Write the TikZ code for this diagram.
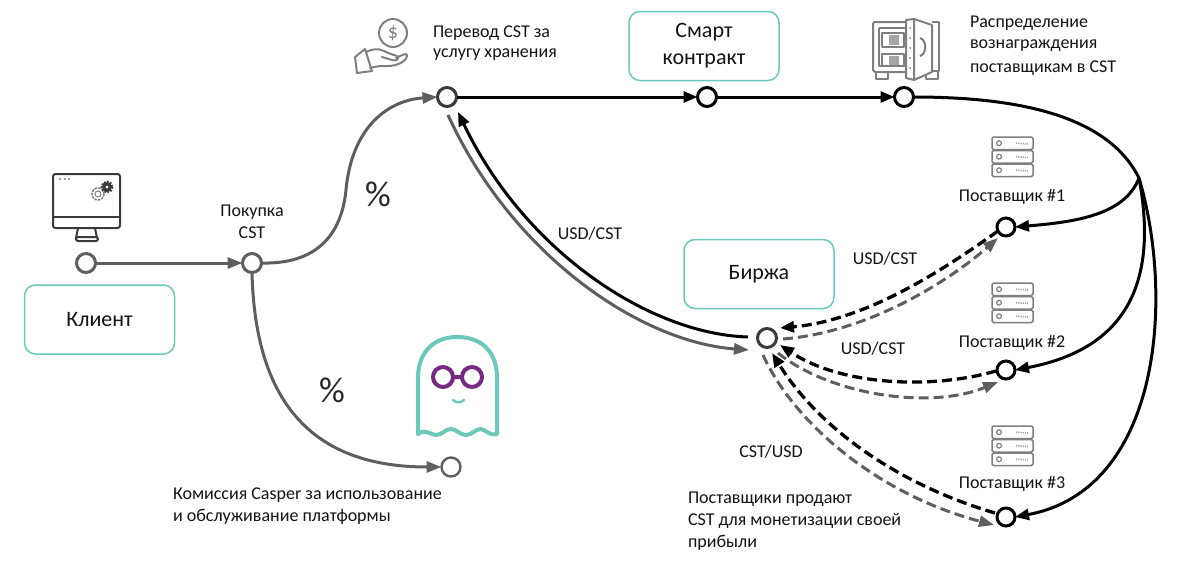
\documentclass[tikz,border=0pt]{standalone}
\usepackage{fontspec}
\setmainfont{Carlito}
\usetikzlibrary{arrows.meta}
\definecolor{tealbox}{HTML}{6CC9BA}
\definecolor{flowgray}{HTML}{5E5E5E}
\definecolor{icongray}{HTML}{7F7F7F}
\definecolor{inkdark}{HTML}{3A3A3A}
\definecolor{glasses}{HTML}{742A80}
\tikzset{
  every node/.style={inner sep=0pt,outer sep=0pt,text=black!92},
  label16/.style={font=\fontsize{18}{18}\selectfont},
  left16/.style={label16,anchor=west},
  bigpct/.style={font=\fontsize{36}{36}\selectfont,text=black!85},
  titlebox/.style={draw=tealbox,line width=1.5pt,rounded corners=11pt,minimum width=150pt,minimum height=69pt,align=center,font=\fontsize{22}{27}\selectfont},
  dotblack/.style={circle,draw=black,line width=3pt,fill=white,minimum size=19pt},
  dotgray/.style={circle,draw=flowgray,line width=3pt,fill=white,minimum size=19pt},
  flowblack/.style={draw=black,line width=3pt,-{Triangle[length=14pt,width=11pt]}},
  flowgrayline/.style={draw=flowgray,line width=3pt,-{Triangle[length=15pt,width=11pt]}},
  dashblack/.style={flowblack,line width=3.3pt,dash pattern=on 10pt off 5pt},
  dashgray/.style={flowgrayline,dash pattern=on 10pt off 5pt},
  noarrowblack/.style={draw=black,line width=3pt},
  servericon/.pic={
    \foreach \r in {0,1,2}{
      \draw[icongray,line width=1.5pt,rounded corners=1.5pt] (0,\r*13.5) rectangle (41,\r*13.5+12.5);
      \draw[icongray,line width=1.2pt] (7,\r*13.5+6.2) circle (2.4);
      \draw[icongray!70,line width=1.6pt,dash pattern=on 1.2pt off 1pt] (24,\r*13.5+6.2) -- (37,\r*13.5+7);
    }
  }
}
\begin{document}
\begin{tikzpicture}[x=1pt,y=-1pt]
\useasboundingbox[fill=white] (0,0) rectangle (1200,582);

% Titled boxes
\node[titlebox] (client) at (99.5,319.5) {Клиент};
\node[titlebox] (smart) at (704,46) {Смарт\\контракт};
\node[titlebox] (birzha) at (759,274) {Биржа};

% Flow points
\node[dotgray] (start) at (86,263) {};
\node[dotgray] (buy) at (252,263) {};
\node[dotblack,draw=inkdark] (top) at (447,97) {};
\node[dotblack] (sc) at (707,97) {};
\node[dotblack] (safe) at (904,97) {};
\node[dotblack,minimum size=18pt] (p1) at (1006,227) {};
\node[dotblack,minimum size=18pt] (p2) at (1006,370) {};
\node[dotblack,minimum size=18pt] (p3) at (1006,517) {};
\node[dotblack,draw=inkdark] (ex) at (767,338) {};
\node[circle,draw=flowgray,line width=2.4pt,fill=white,minimum size=19pt] (fee) at (451,467) {};
\coordinate (fork) at (1139,178);
\coordinate (bend) at (346,190);

% Purchase flows
\draw[flowgrayline] (start) -- (buy);
\draw[flowgrayline] (buy.east) .. controls (300,264) and (340,250) .. (bend)
  .. controls (352,125) and (390,100) .. (top.west);
\draw[flowgrayline] (buy.south) .. controls (255,400) and (310,467) .. (fee.west);

% Storage payment flows
\draw[flowblack] (top) -- (sc);
\draw[flowblack] (sc) -- (safe);
\draw[noarrowblack] (safe.east) .. controls (1030,97) and (1110,120) .. (fork);
\draw[flowblack] (fork) .. controls (1125,215) and (1075,222) .. (p1.east);
\draw[flowblack] (fork) .. controls (1160,290) and (1120,350) .. (p2.east);
\draw[flowblack] (fork) .. controls (1175,300) and (1160,490) .. (p3.east);

% Exchange flows between the storage payment point and the market
\draw[flowblack] ([shift={(-19,-1)}]ex.center) .. controls (650,334) and (525,252) .. ([shift={(11,15)}]top.center);
\draw[flowgrayline] ([shift={(1,18)}]top.center) .. controls (512,255) and (640,342) .. ([shift={(-18,12)}]ex.center);

% Providers trading with the market
\draw[dashblack] ([shift={(-8,4)}]p1.center) .. controls (950,265) and (870,320) .. ([shift={(13,-10)}]ex.center);
\draw[dashgray] ([shift={(16,1)}]ex.center) .. controls (870,332) and (950,280) .. ([shift={(-8,11)}]p1.center);
\draw[dashblack] ([shift={(-10,1)}]p2.center) .. controls (930,390) and (840,385) .. ([shift={(13,7)}]ex.center);
\draw[dashgray] ([shift={(11,15)}]ex.center) .. controls (830,395) and (930,410) .. ([shift={(-8,12)}]p2.center);
\draw[dashblack] ([shift={(-11,-4)}]p3.center) .. controls (900,485) and (820,430) .. ([shift={(5,15)}]ex.center);
\draw[dashgray] ([shift={(-4,17)}]ex.center) .. controls (795,425) and (880,495) .. ([shift={(-12,8)}]p3.center);

% Labels
\node[left16] (t1a) at (433,33) {Перевод CST за};
\node[left16] (t1b) at (433,55) {услугу хранения};
\node[left16] (t2a) at (970,23) {Распределение};
\node[left16] (t2b) at (970,46) {вознаграждения};
\node[left16] (t2c) at (970,68) {поставщикам в CST};
\node[label16] (t3a) at (252,212) {Покупка};
\node[label16] (t3b) at (252,233) {CST};
\node[label16] (p1t) at (1012,197) {Поставщик \#1};
\node[label16] (p2t) at (1012,343) {Поставщик \#2};
\node[label16] (p3t) at (1012,484) {Поставщик \#3};
\node[label16] (r1) at (590,234) {USD/CST};
\node[label16] (r2) at (885,259) {USD/CST};
\node[label16] (r3) at (873,349) {USD/CST};
\node[label16] (r4) at (771,452) {CST/USD};
\node[left16] (t4a) at (173,495) {Комиссия Casper за использование};
\node[left16] (t4b) at (173,517) {и обслуживание платформы};
\node[left16] (t5a) at (688,499) {Поставщики продают};
\node[left16] (t5b) at (688,521) {CST для монетизации своей};
\node[left16] (t5c) at (688,543) {прибыли};
\node[bigpct] (pc1) at (378,194) {\%};
\node[bigpct] (pc2) at (332,390) {\%};

% Server racks
\pic at (992,137) {servericon};
\pic at (992,283) {servericon};
\pic at (992,426) {servericon};

% Desktop computer
\begin{scope}[draw=inkdark,line width=2pt]
  \draw[rounded corners=2.5pt] (53,174) rectangle (120,228);
  \draw (53,217) -- (120,217);
  \draw (78,228) -- (76,238) (95,228) -- (97,238);
  \draw[rounded corners=2pt] (76,237) rectangle (98,241);
  \fill[icongray] (60,179) circle (1.2) (65,179) circle (1.2) (69,179) circle (1.2);
  \draw[icongray,line width=1.5pt,dash pattern=on 2.5pt off 1pt] (98,194) circle (6);
  \draw[icongray,line width=1pt] (98,194) circle (3);
  \fill[inkdark] (107,187) circle (5);
  \draw[inkdark,line width=1.6pt,dash pattern=on 1.8pt off 1.4pt] (107,187) circle (5.6);
  \fill[white] (107,187) circle (1.6);
\end{scope}

% Hand holding a coin
\begin{scope}[draw=icongray,line width=2pt,line join=round,line cap=round]
  \draw (393,33) circle (14);
  \node[font=\fontsize{20}{20}\selectfont,text=icongray] (coin) at (393,33) {\$};
  \draw (355,57) -- (365,49) -- (372,71) -- (357,73) -- cycle;
  \draw (366,52) .. controls (372,49) and (378,48) .. (384,51) .. controls (390,54) and (394,55) .. (397,56)
        .. controls (400,58) and (397,62) .. (392,60) -- (382,57);
  \draw (396,58) .. controls (402,55) and (408,52) .. (407,56) .. controls (406,62) and (396,66) .. (388,66)
        .. controls (382,66) and (376,66) .. (370,68);
\end{scope}

% Open safe
\begin{scope}[draw=icongray,line width=2pt,line join=round]
  \draw (905,22) -- (874,22) -- (873,24) -- (873,70) -- (875,72) -- (906,72);
  \draw (879,28) -- (905,28) (879,28) -- (879,66) -- (905,66);
  \draw (882,33) rectangle (904,47);
  \draw (882,54) rectangle (904,66);
  \fill[icongray!70] (889,35) rectangle (899,45) (889,56) rectangle (899,65);
  \draw (906,20) -- (914,19) -- (914,80) -- (906,78) -- cycle;
  \draw (914,19) -- (932,25) -- (932,72) -- (914,80);
  \draw (932,22) -- (939,22) -- (939,71) -- (932,71);
  \draw (920,38) .. controls (927,40) and (927,54) .. (920,56);
  \draw (876,72) -- (876,79) -- (888,79) -- (888,72);
  \draw (926,74) -- (926,79) -- (938,79) -- (938,71);
  \foreach \yy in {28,38,48,58,68}{\fill[icongray] (910,\yy) circle (1);}
\end{scope}

% Ghost mascot
\draw[tealbox,line width=4pt,line join=round,line cap=round]
  (418,434) -- (418,378) .. controls (418,352) and (434,337) .. (457,337)
  .. controls (482,337) and (497,352) .. (497,378) -- (497,434)
  .. controls (490,436) and (486,430) .. (481,429)
  .. controls (475,429) and (472,435) .. (466,435)
  .. controls (460,435) and (456,429) .. (451,429)
  .. controls (445,429) and (442,435) .. (436,435)
  .. controls (430,435) and (426,428) .. (418,434);
\draw[glasses,line width=4pt] (443,377) circle (10) (472,377) circle (10) (453,377) -- (462,377);
\draw[tealbox,line width=2.4pt,line cap=round] (453,400) .. controls (456,403) and (461,403) .. (464,400);
\end{tikzpicture}
\end{document}
